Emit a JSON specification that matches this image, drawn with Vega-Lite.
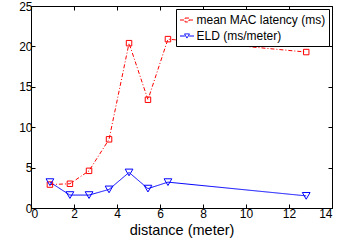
{
  "$schema": "https://vega.github.io/schema/vega-lite/v6.json",
  "width": 301,
  "height": 202,
  "autosize": {"type": "none"},
  "padding": {"left": 31, "top": 6, "right": 8, "bottom": 39},
  "background": "white",
  "config": {
    "view": {"stroke": "black", "strokeWidth": 1},
    "font": "Liberation Sans",
    "axis": {"grid": false, "domain": false, "tickColor": "black", "tickSize": -4, "labelColor": "black", "labelFont": "Liberation Sans", "labelFontSize": 12, "titleFont": "Liberation Sans", "titleFontWeight": "normal", "titleColor": "black"}
  },
  "data": {"values": [
    {"series": "mean MAC latency (ms)", "distance": 0.88, "value": 2.9},
    {"series": "mean MAC latency (ms)", "distance": 1.81, "value": 3.0},
    {"series": "mean MAC latency (ms)", "distance": 2.7, "value": 4.6},
    {"series": "mean MAC latency (ms)", "distance": 3.63, "value": 8.5},
    {"series": "mean MAC latency (ms)", "distance": 4.56, "value": 20.4},
    {"series": "mean MAC latency (ms)", "distance": 5.44, "value": 13.4},
    {"series": "mean MAC latency (ms)", "distance": 6.37, "value": 20.9},
    {"series": "mean MAC latency (ms)", "distance": 12.8, "value": 19.3},
    {"series": "ELD (ms/meter)", "distance": 0.88, "value": 3.2},
    {"series": "ELD (ms/meter)", "distance": 1.81, "value": 1.6},
    {"series": "ELD (ms/meter)", "distance": 2.7, "value": 1.6},
    {"series": "ELD (ms/meter)", "distance": 3.63, "value": 2.3},
    {"series": "ELD (ms/meter)", "distance": 4.56, "value": 4.4},
    {"series": "ELD (ms/meter)", "distance": 5.44, "value": 2.4},
    {"series": "ELD (ms/meter)", "distance": 6.37, "value": 3.2},
    {"series": "ELD (ms/meter)", "distance": 12.8, "value": 1.5}
  ]},
  "resolve": {"axis": {"x": "independent", "y": "independent"}},
  "encoding": {
    "color": {"field": "series", "type": "nominal",
              "scale": {"domain": ["mean MAC latency (ms)", "ELD (ms/meter)"], "range": ["#ff0000", "#0000ff"]},
              "legend": {"title": null, "orient": "top-right", "offset": 3, "padding": 3.5, "strokeColor": "black", "fillColor": "white",
                         "labelFontSize": 12, "labelFont": "Liberation Sans", "labelColor": "black", "rowPadding": 2, "labelOffset": 2,
                         "symbolSize": 196, "symbolStrokeWidth": 1, "symbolType": "square",
                         "encode": {"symbols": {"update": {
                           "shape": {"signal": "datum.value == 'ELD (ms/meter)' ? 'M-1,0H-0.3M0.3,0H1M-0.35,-0.3H0.35L0,0.3Z' : 'M-1,0H-0.28M0.28,0H1M-0.28,-0.28H0.28V0.28H-0.28Z'"},
                           "strokeDash": {"signal": "datum.value == 'ELD (ms/meter)' ? [1,0] : [2,1]"},
                           "fill": {"value": "transparent"}
                         }}}}}
  },
  "layer": [
    {
      "mark": {"type": "line", "strokeWidth": 1},
      "encoding": {
        "x": {"field": "distance", "type": "quantitative", "scale": {"domain": [0, 14], "nice": false},
              "axis": {"values": [0, 2, 4, 6, 8, 10, 12, 14], "title": "distance (meter)", "titleFontSize": 14.5, "titlePadding": 4, "labelPadding": 4}},
        "y": {"field": "value", "type": "quantitative", "scale": {"domain": [0, 25], "nice": false},
              "axis": {"values": [0, 5, 10, 15, 20, 25], "title": null, "labelPadding": 3}},
        "strokeDash": {"field": "series", "type": "nominal",
                       "scale": {"domain": ["mean MAC latency (ms)", "ELD (ms/meter)"], "range": [[4, 2, 1, 2], [1, 0]]},
                       "legend": null}
      }
    },
    {
      "mark": {"type": "point", "filled": false, "strokeWidth": 1, "opacity": 1},
      "encoding": {
        "x": {"field": "distance", "type": "quantitative", "axis": {"orient": "top", "values": [0, 2, 4, 6, 8, 10, 12, 14], "labels": false, "title": null}},
        "y": {"field": "value", "type": "quantitative", "axis": {"orient": "right", "values": [0, 5, 10, 15, 20, 25], "labels": false, "title": null}},
        "shape": {"condition": {"test": "datum.series == 'ELD (ms/meter)'", "value": "triangle-down"}, "value": "square"},
        "size": {"condition": {"test": "datum.series == 'ELD (ms/meter)'", "value": 60}, "value": 30}
      }
    }
  ]
}
